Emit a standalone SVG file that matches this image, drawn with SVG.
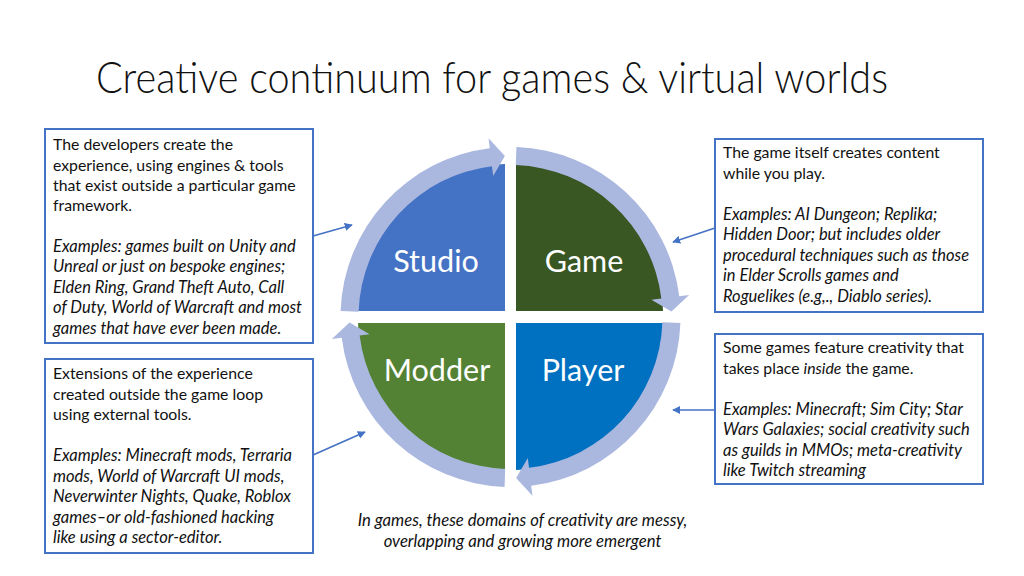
<svg xmlns="http://www.w3.org/2000/svg" width="1024" height="576" viewBox="0 0 1024 576">
<style>
.title{font-family:Lato,"Open Sans",sans-serif;font-weight:300;font-size:43px;fill:#111}
.box{fill:#fff;stroke:#4472C4;stroke-width:2}
.t{font-family:Lato,"Open Sans",sans-serif;font-size:15.8px;fill:#111}
.i{font-style:italic;font-size:16.5px}
.it{font-style:italic}
.q{font-family:Lato,"Open Sans",sans-serif;font-size:30.5px;fill:#fff;text-anchor:middle}
.ring{fill:#AAB8DF}
.conn{stroke:#4472C4;stroke-width:1.6;fill:none;marker-end:url(#ah)}
.cap{font-family:Lato,"Open Sans",sans-serif;font-size:16.7px;font-style:italic;fill:#111;text-anchor:middle}
</style>
<defs>
<marker id="ah" viewBox="0 0 10 10" refX="9" refY="5" markerWidth="5" markerHeight="5" orient="auto" markerUnits="strokeWidth">
<path d="M0,0 L10,5 L0,10 Z" fill="#4472C4"/>
</marker>
<path id="arc" class="ring" d="M 340.60 311.07 A 170 170 0 0 1 489.78 148.27 L 488.56 138.34 L 504.88 156.10 L 493.19 176.06 L 491.98 166.13 A 152 152 0 0 0 358.59 311.70 Z"/>
</defs>
<rect width="1024" height="576" fill="#fff"/>
<text class="title" x="96" y="93" textLength="792" lengthAdjust="spacingAndGlyphs">Creative continuum for games &amp; virtual worlds</text>

<g id="cycle">
<g id="studio"><path d="M 505 311 L 358 311 A 147 147 0 0 1 505 164 Z" fill="#4472C4"/><text class="q" x="436" y="272">Studio</text></g>
<g id="game"><path d="M 516 311 L 516 164 A 147 147 0 0 1 663 311 Z" fill="#385723"/><text class="q" x="584" y="272">Game</text></g>
<g id="player"><path d="M 516 323 L 663 323 A 147 147 0 0 1 516 470 Z" fill="#0070C0"/><text class="q" x="583" y="381">Player</text></g>
<g id="modder"><path d="M 505 323 L 505 470 A 147 147 0 0 1 358 323 Z" fill="#548235"/><text class="q" x="437" y="381">Modder</text></g>
<g id="ring-arrows">
<use href="#arc"/>
<use href="#arc" transform="rotate(90 510.5 317)"/>
<use href="#arc" transform="rotate(180 510.5 317)"/>
<use href="#arc" transform="rotate(270 510.5 317)"/>
</g>
</g>

<g id="connectors">
<line class="conn" x1="313" y1="236" x2="352" y2="225"/>
<line class="conn" x1="715" y1="228" x2="673" y2="242"/>
<line class="conn" x1="313" y1="455" x2="365" y2="432"/>
<line class="conn" x1="715" y1="410" x2="673" y2="410"/>
</g>

<g id="box-studio">
<rect class="box" x="45" y="129" width="268" height="214"/>
<text class="t" x="53" y="150">The developers create the</text>
<text class="t" x="53" y="170.5">experience, using engines &amp; tools</text>
<text class="t" x="53" y="191">that exist outside a particular game</text>
<text class="t" x="53" y="211">framework.</text>
<text class="t i" x="53" y="252">Examples: games built on Unity and</text>
<text class="t i" x="53" y="272">Unreal or just on bespoke engines;</text>
<text class="t i" x="53" y="293">Elden Ring, Grand Theft Auto, Call</text>
<text class="t i" x="53" y="313">of Duty, World of Warcraft and most</text>
<text class="t i" x="53" y="334">games that have ever been made.</text>
</g>

<g id="box-game">
<rect class="box" x="715" y="139" width="268" height="173"/>
<text class="t" x="723" y="158">The game itself creates content</text>
<text class="t" x="723" y="179">while you play.</text>
<text class="t i" x="723" y="220">Examples: AI Dungeon; Replika;</text>
<text class="t i" x="723" y="240">Hidden Door; but includes older</text>
<text class="t i" x="723" y="261">procedural techniques such as those</text>
<text class="t i" x="723" y="281">in Elder Scrolls games and</text>
<text class="t i" x="723" y="302">Roguelikes (e.g,., Diablo series).</text>
</g>

<g id="box-modder">
<rect class="box" x="45" y="359" width="268" height="194"/>
<text class="t" x="53" y="379">Extensions of the experience</text>
<text class="t" x="53" y="400">created outside the game loop</text>
<text class="t" x="53" y="420">using external tools.</text>
<text class="t i" x="53" y="461">Examples: Minecraft mods, Terraria</text>
<text class="t i" x="53" y="482">mods, World of Warcraft UI mods,</text>
<text class="t i" x="53" y="502">Neverwinter Nights, Quake, Roblox</text>
<text class="t i" x="53" y="523">games–or old-fashioned hacking</text>
<text class="t i" x="53" y="543">like using a sector-editor.</text>
</g>

<g id="box-player">
<rect class="box" x="715" y="334" width="268" height="150"/>
<text class="t" x="723" y="353">Some games feature creativity that</text>
<text class="t" x="723" y="374">takes place <tspan class="it">inside</tspan> the game.</text>
<text class="t i" x="723" y="415">Examples: Minecraft; Sim City; Star</text>
<text class="t i" x="723" y="435">Wars Galaxies; social creativity such</text>
<text class="t i" x="723" y="456">as guilds in MMOs; meta-creativity</text>
<text class="t i" x="723" y="476">like Twitch streaming</text>
</g>

<g id="caption">
<text class="cap" x="522.5" y="526">In games, these domains of creativity are messy,</text>
<text class="cap" x="522.5" y="547">overlapping and growing more emergent</text>
</g>
</svg>
